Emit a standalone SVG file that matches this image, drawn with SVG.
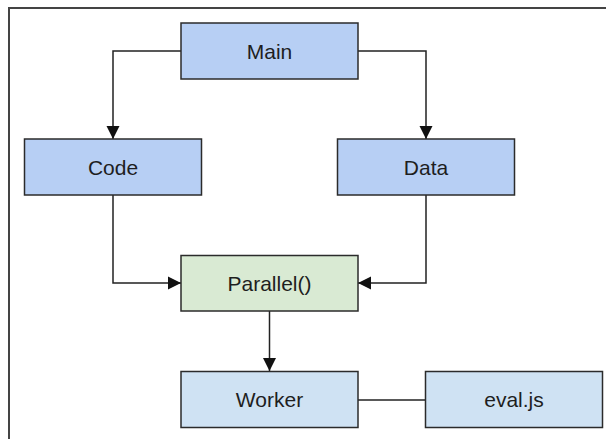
<svg xmlns="http://www.w3.org/2000/svg" width="606" height="439" viewBox="0 0 606 439">
<defs>
<style>
.frame{fill:none;stroke:#444;stroke-width:2}
.box{stroke:#2b2b2b;stroke-width:1.5}
.blue{fill:#b7cff4}
.green{fill:#d9ead3}
.light{fill:#cfe2f3}
.lbl{font-family:"Liberation Sans",Arial,sans-serif;font-size:21px;fill:#1e1e1e;text-anchor:middle}
.edge{fill:none;stroke:#222;stroke-width:1.5}
</style>
<marker id="arr" markerUnits="userSpaceOnUse" markerWidth="14" markerHeight="14" viewBox="0 0 14 14" refX="13" refY="7" orient="auto">
<path d="M0,0.5 L13,7 L0,13.5 Z" fill="#111"/>
</marker>
</defs>
<rect width="606" height="439" fill="#fff"/>
<path class="frame" d="M9,445 L9,8 L612,8"/>
<g id="connectors">
<path class="edge" d="M181,51 H113 V139" marker-end="url(#arr)"/>
<path class="edge" d="M358,51 H426 V139" marker-end="url(#arr)"/>
<path class="edge" d="M113,195 V283 H181" marker-end="url(#arr)"/>
<path class="edge" d="M426,195 V283 H358" marker-end="url(#arr)"/>
<path class="edge" d="M269.5,311 V371" marker-end="url(#arr)"/>
<path class="edge" d="M358,400 H426"/>
</g>
<g id="main"><rect class="box blue" x="181" y="23" width="177" height="56"/><text class="lbl" x="269.5" y="58.5">Main</text></g>
<g id="code"><rect class="box blue" x="24.5" y="139" width="177" height="56"/><text class="lbl" x="113" y="174.5">Code</text></g>
<g id="data"><rect class="box blue" x="337.5" y="139" width="177" height="56"/><text class="lbl" x="426" y="174.5">Data</text></g>
<g id="parallel"><rect class="box green" x="181" y="255.5" width="177" height="55.5"/><text class="lbl" x="269.5" y="291">Parallel()</text></g>
<g id="worker"><rect class="box light" x="181" y="371.5" width="177" height="56"/><text class="lbl" x="269.5" y="407">Worker</text></g>
<g id="evaljs"><rect class="box light" x="425.5" y="371.5" width="177" height="56"/><text class="lbl" x="514" y="407">eval.js</text></g>
</svg>
